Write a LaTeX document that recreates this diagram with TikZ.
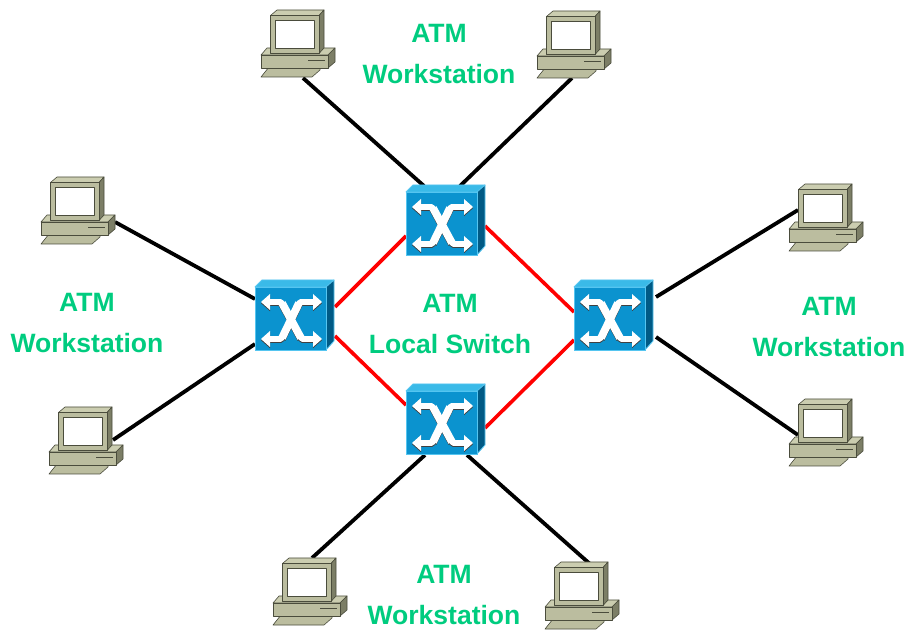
\documentclass[tikz,border=0pt]{standalone}
\usepackage{fontspec}
\setmainfont{Liberation Sans}
\definecolor{swfront}{HTML}{0B93CF}
\definecolor{swtop}{HTML}{3ABAE8}
\definecolor{swside}{HTML}{005A85}
\definecolor{swedge}{HTML}{55C5F0}
\definecolor{pcfront}{HTML}{BBBD9F}
\definecolor{pctop}{HTML}{CBCDB0}
\definecolor{pcside}{HTML}{7C7E66}
\definecolor{pcline}{HTML}{4A4C3C}
\definecolor{lbl}{HTML}{00CC7F}
\tikzset{
  wire/.style={black,line width=2.85pt},
  trunk/.style={red,line width=2.7pt},
  lab/.style={text=lbl,font=\fontsize{19.9}{22}\selectfont\bfseries,inner sep=0pt},
  pcpart/.style={draw=pcline,line width=0.45pt,line join=round},
  pics/pc/.style={code={
    % keyboard
    \path[pcpart,fill=pcfront] (0,67) -- (8,57) -- (59,57) -- (59,60) -- (51,67) -- cycle;
    % base
    \path[pcpart,fill=pctop] (0,45) -- (6,38) -- (74,38) -- (67,45) -- cycle;
    \path[pcpart,fill=pcside] (67,45) -- (74,38) -- (74,52) -- (67,58) -- cycle;
    \path[pcpart,fill=pcfront] (0,45) rectangle (67,58);
    \draw[pcline,line width=0.9pt] (47,50.5) -- (64,50.5);
    % monitor
    \path[pcpart,fill=pctop] (9.5,5.5) -- (16,0) -- (63,0) -- (58,5.5) -- cycle;
    \path[pcpart,fill=pcside] (58,5.5) -- (63,0) -- (63,38) -- (58,43.5) -- cycle;
    \path[pcpart,fill=pcfront] (9.5,5.5) rectangle (58,43.5);
    \path[pcpart,fill=white,line width=0.7pt] (14.5,10.5) rectangle (53.5,38.5);
  }},
  pics/atmswitch/.style={code={
    \path[fill=swtop,draw=swedge,line width=0.6pt,line join=round] (0,0) -- (7,-7) -- (79,-7) -- (71,0) -- cycle;
    \path[fill=swside,draw=swedge,line width=0.6pt,line join=round] (71,0) -- (79,-7) -- (79,54) -- (71,63) -- cycle;
    \path[fill=swfront,draw=swedge,line width=0.6pt] (0,0) rectangle (71,63);
    \foreach \dy/\c/\w/\k in {-1.2/black!75/4.2pt/5.6pt,0/white/4.2pt/5.8pt}{
      \begin{scope}[yshift=\dy*0.75pt]
      \draw[\c,line width=\w,line join=round] (13,15) -- (26,15) -- (47,52) -- (60,52);
      \draw[\c,line width=\w,line join=round] (13,52) -- (26,52) -- (45,15) -- (60,15);
      \draw[\c,line width=\k] (27,16) -- (46,51);
      \draw[\c,line width=\k] (27,51) -- (44,16);
      \fill[\c] (6,15) -- (15,7) -- (15,23) -- cycle;
      \fill[\c] (6,52) -- (15,44) -- (15,60) -- cycle;
      \fill[\c] (67,15) -- (58,7) -- (58,23) -- cycle;
      \fill[\c] (67,52) -- (58,44) -- (58,60) -- cycle;
      \end{scope}
    }
  }}
}
\begin{document}
\begin{tikzpicture}[x=0.75pt,y=-0.75pt]
\useasboundingbox (0,0) rectangle (907,630);
% connector ends
\coordinate (pcA) at (303,78);   \coordinate (swTa) at (424,186);
\coordinate (pcB) at (572,78);   \coordinate (swTb) at (460,186);
\coordinate (pcC) at (115,222);  \coordinate (swLa) at (255,299);
\coordinate (pcD) at (113,440);  \coordinate (swLb) at (255,344);
\coordinate (pcE) at (798,210);  \coordinate (swRa) at (656,297);
\coordinate (pcF) at (798,435);  \coordinate (swRb) at (656,337);
\coordinate (pcG) at (312,558);  \coordinate (swBa) at (425,455);
\coordinate (pcH) at (590,564);  \coordinate (swBb) at (467,455);
\coordinate (swLc) at (335,307); \coordinate (swTc) at (406,236);
\coordinate (swLd) at (335,336); \coordinate (swBc) at (406,405);
\coordinate (swTd) at (485,226); \coordinate (swRc) at (574,312);
\coordinate (swBd) at (485,428); \coordinate (swRd) at (574,340);
\draw[wire] (pcA) -- (swTa);
\draw[wire] (pcB) -- (swTb);
\draw[wire] (pcC) -- (swLa);
\draw[wire] (pcD) -- (swLb);
\draw[wire] (pcE) -- (swRa);
\draw[wire] (pcF) -- (swRb);
\draw[wire] (pcG) -- (swBa);
\draw[wire] (pcH) -- (swBb);
\draw[trunk] (swLc) -- (swTc);
\draw[trunk] (swLd) -- (swBc);
\draw[trunk] (swTd) -- (swRc);
\draw[trunk] (swBd) -- (swRd);
% computers
\pic at (261,10) {pc};
\pic at (537,11) {pc};
\pic at (41,177) {pc};
\pic at (49,407) {pc};
\pic at (789,184) {pc};
\pic at (789,399) {pc};
\pic at (273,558) {pc};
\pic at (545,562) {pc};
% switches
\pic at (406,192) {atmswitch};
\pic at (255,287) {atmswitch};
\pic at (574,287) {atmswitch};
\pic at (406,391) {atmswitch};
% labels
\node[lab] (t1) at (439,33) {ATM};
\node[lab] (t2) at (439,74) {Workstation};
\node[lab] (l1) at (87,302) {ATM};
\node[lab] (l2) at (87,343) {Workstation};
\node[lab] (c1) at (450,303) {ATM};
\node[lab] (c2) at (450,344) {Local Switch};
\node[lab] (r1) at (829,306) {ATM};
\node[lab] (r2) at (829,347) {Workstation};
\node[lab] (b1) at (444,574) {ATM};
\node[lab] (b2) at (444,615) {Workstation};
\end{tikzpicture}
\end{document}
